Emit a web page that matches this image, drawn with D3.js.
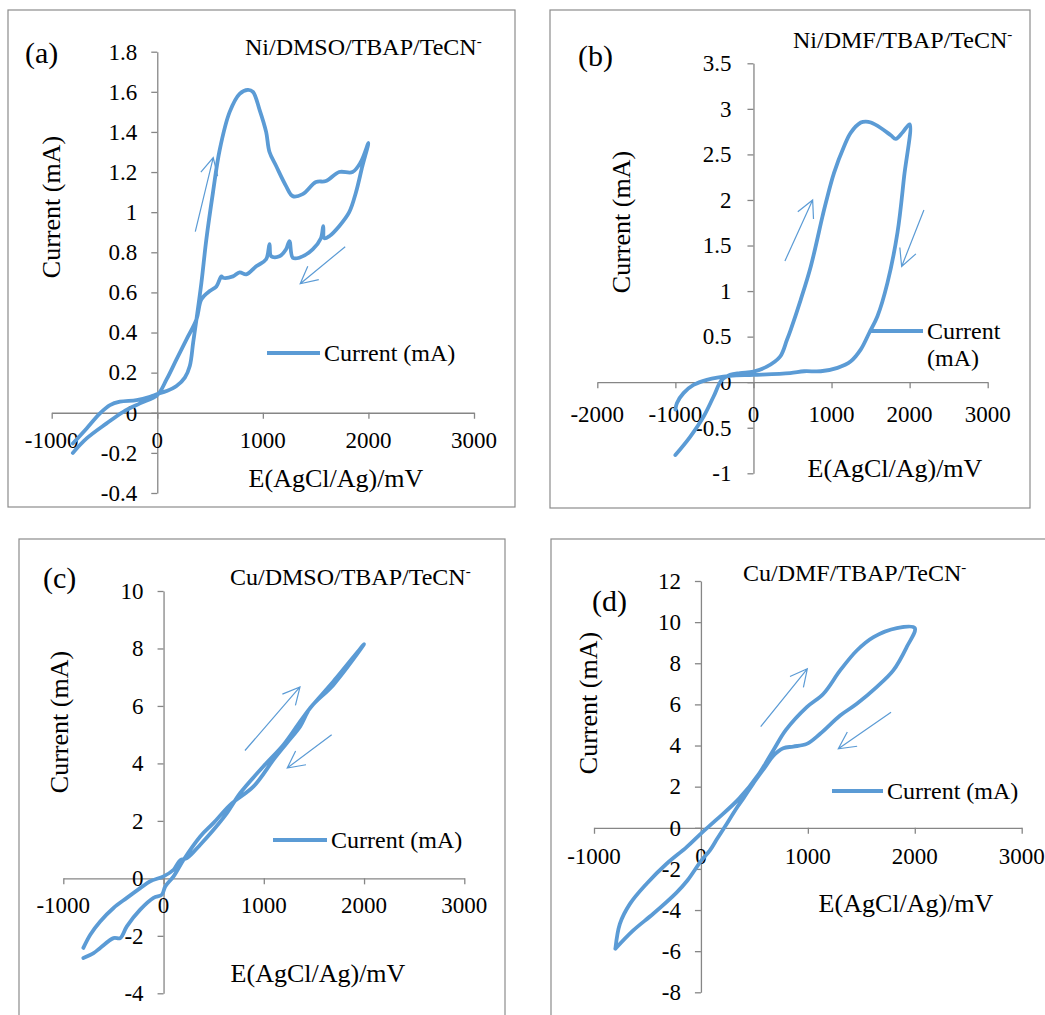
<!DOCTYPE html>
<html>
<head>
<meta charset="utf-8">
<title>Cyclic voltammograms</title>
<script src="https://d3js.org/d3.v7.min.js"></script>
<style>
  body { margin: 0; background: #fff; }
  svg text { font-family: "Liberation Serif", "Times New Roman", serif; fill: #000; }
  .axis path, .axis line { stroke: #868686; stroke-width: 1.3; }
</style>
</head>
<body>
<script>
// ---- data: potential (mV) / current (mA), forward then reverse sweep ----
const aE = [-800,-669,-543,-448,-354,-196,-69,0,88,182,261,308,340,371,418,465,528,591,686,780,858,906,969,1031,1063,1126,1220,1283,1377,1503,1597,1723,1849,1928,2000,
            1943,1881,1818,1723,1629,1582,1572,1550,1472,1346,1283,1252,1220,1157,1079,1063,1031,937,843,780,717,623,607,560,497,418,371,277,182,88,0,-164,-322,-480,-669,-800];
const aI = [-0.153,-0.078,-0.003,0.038,0.055,0.063,0.08,0.093,0.108,0.133,0.175,0.233,0.35,0.465,0.648,0.865,1.1,1.31,1.5,1.59,1.61,1.6,1.51,1.4,1.3,1.23,1.13,1.08,1.09,1.15,1.155,1.2,1.2,1.25,1.345,
            1.23,1.097,1.0,0.93,0.88,0.87,0.93,0.87,0.815,0.773,0.773,0.856,0.815,0.78,0.78,0.84,0.765,0.73,0.69,0.70,0.68,0.673,0.68,0.63,0.607,0.565,0.465,0.366,0.266,0.166,0.088,0.047,0.005,-0.053,-0.128,-0.2];

const bE = [-1000,-811,-640,-512,-405,-299,-171,0,171,341,427,478,606,734,884,927,1033,1161,1247,1375,1440,1503,1631,1759,1823,1909,2000,
            1930,1844,1716,1588,1482,1375,1247,1076,862,649,469,0,-299,-597,-768,-896,-981,-1000];
const bI = [-0.8,-0.6,-0.38,-0.16,0.026,0.08,0.1,0.117,0.17,0.28,0.46,0.578,0.907,1.27,1.82,1.97,2.3,2.59,2.74,2.85,2.86,2.85,2.79,2.71,2.67,2.74,2.83,
            2.26,1.64,1.09,0.724,0.54,0.36,0.23,0.157,0.12,0.12,0.1,0.08,0.07,0.026,-0.03,-0.12,-0.23,-0.3];

const cE = [-800,-731,-632,-499,-366,-233,-133,0,100,166,233,366,499,632,765,997,1197,1363,1463,1696,2000,
            1696,1463,1363,1230,1097,898,665,499,366,200,100,17,-17,-100,-233,-366,-432,-499,-632,-698,-800];
const cI = [-2.42,-1.96,-1.5,-1.03,-0.68,-0.34,-0.1,0.07,0.3,0.63,0.7,1.17,1.69,2.27,2.97,3.9,4.65,5.46,5.93,6.86,8.15,
            6.74,5.93,5.29,4.71,4.13,3.2,2.56,1.93,1.46,0.65,0.07,-0.28,-0.57,-0.68,-1.09,-1.67,-2.08,-2.08,-2.42,-2.6,-2.77];

const dE = [-800,-758,-664,-508,-321,-134,0,140,359,546,676,795,990,1146,1302,1458,1614,1832,2000,
            1924,1799,1643,1458,1302,1115,990,864,770,676,600,489,400,333,218,150,84,0,-125,-228,-446,-633,-800];
const dI = [-5.88,-4.67,-3.7,-2.72,-1.75,-0.94,-0.28,0.37,1.43,2.65,3.76,4.76,5.87,6.52,7.65,8.62,9.27,9.71,9.71,
            8.78,7.65,6.84,6.03,5.46,4.57,4.08,3.95,3.87,3.5,2.95,2.15,1.45,0.95,0,-0.55,-1.1,-1.62,-2.55,-3.15,-4.18,-4.99,-5.88];

// tick values
const xTicksA = [-1000,0,1000,2000,3000];
const yTicksA = [-0.4,-0.2,0,0.2,0.4,0.6,0.8,1,1.2,1.4,1.6,1.8];
const xTicksB = [-2000,-1000,0,1000,2000,3000];
const yTicksB = [-1,-0.5,0,0.5,1,1.5,2,2.5,3,3.5];
const xTicksC = [-1000,0,1000,2000,3000];
const yTicksC = [-4,-2,0,2,4,6,8,10];
const xTicksD = [-1000,0,1000,2000,3000];
const yTicksD = [-8,-6,-4,-2,0,2,4,6,8,10,12];

// sweep-direction arrows [E0, I0, E1, I1] (tail -> tip)
const arrowsA = [[360,0.903,530,1.272],[1780,0.828,1354,0.643]];
const arrowsB = [[403,1.33,758,2.0],[2183,1.89,1898,1.27]];
const arrowsC = [[812,4.45,1361,6.66],[1677,5.0,1234,3.84]];
const arrowsD = [[559,4.92,995,7.73],[1778,5.62,1285,3.84]];

const blue = '#5b9bd5';

const svg = d3.select('body').append('svg')
  .attr('width', 1045).attr('height', 1015);
svg.append('rect').attr('width', 1045).attr('height', 1015).attr('fill', '#fff');

const panels = [
  { E: aE, I: aI, xT: xTicksA, yT: yTicksA, arrows: arrowsA,
    xDom: [-1000,3000], xR: [51.7,474], yDom: [-0.4,1.8], yR: [493,51.7],
    frame: [8,10,515,507], xOff: 35, yOff: 20,
    letter: '(a)', letterPos: [25,63], title: 'Ni/DMSO/TBAP/TeCN', titlePos: [245,55],
    xTitle: [336,487], yTitle: [60,207], legend: [267,320,353], legendLines: ['Current (mA)'] },
  { E: bE, I: bI, xT: xTicksB, yT: yTicksB, arrows: arrowsB,
    xDom: [-2000,3000], xR: [597.3,987.7], yDom: [-1,3.5], yR: [473.3,63.3],
    frame: [550,10,1030,508], xOff: 40, yOff: 22,
    letter: '(b)', letterPos: [578,66], title: 'Ni/DMF/TBAP/TeCN', titlePos: [793,48],
    xTitle: [895,477], yTitle: [630,222], legend: [870,923,331], legendLines: ['Current', '(mA)'] },
  { E: cE, I: cI, xT: xTicksC, yT: yTicksC, arrows: arrowsC,
    xDom: [-1000,3000], xR: [63.3,464.3], yDom: [-4,10], yR: [993.3,591],
    frame: [19,539,505,1040], xOff: 34.3, yOff: 20,
    letter: '(c)', letterPos: [43,588], title: 'Cu/DMSO/TBAP/TeCN', titlePos: [230,585],
    xTitle: [318,982], yTitle: [68,722], legend: [273,327,840], legendLines: ['Current (mA)'] },
  { E: dE, I: dI, xT: xTicksD, yT: yTicksD, arrows: arrowsD,
    xDom: [-1000,3000], xR: [594,1021.7], yDom: [-8,12], yR: [992.3,581],
    frame: [551,539,1060,1040], xOff: 36, yOff: 20,
    letter: '(d)', letterPos: [592,611], title: 'Cu/DMF/TBAP/TeCN', titlePos: [743,581],
    xTitle: [906,912], yTitle: [597,703], legend: [832,883,791], legendLines: ['Current (mA)'] }
];

panels.forEach(p => {
  const g = svg.append('g');
  const x = d3.scaleLinear().domain(p.xDom).range(p.xR);
  const y = d3.scaleLinear().domain(p.yDom).range(p.yR);

  g.append('rect')
    .attr('x', p.frame[0]).attr('y', p.frame[1])
    .attr('width', p.frame[2] - p.frame[0]).attr('height', p.frame[3] - p.frame[1])
    .attr('fill', 'none').attr('stroke', '#8c8c8c').attr('stroke-width', 1.2);

  // axes cross at zero; labels drawn separately in serif
  g.append('g').attr('class', 'axis')
    .attr('transform', `translate(0,${y(0)})`)
    .call(d3.axisBottom(x).tickValues(p.xT).tickSize(6).tickSizeOuter(0).tickFormat(''));

  g.append('g').attr('class', 'axis')
    .attr('transform', `translate(${x(0)},0)`)
    .call(d3.axisLeft(y).tickValues(p.yT).tickSize(6).tickSizeOuter(0).tickFormat(''));

  g.append('g').selectAll('text')
    .data(p.xT).join('text')
    .attr('x', d => x(d)).attr('y', y(0) + p.xOff)
    .attr('text-anchor', 'middle').attr('font-size', 23)
    .text(d => String(d));

  g.append('g').selectAll('text')
    .data(p.yT).join('text')
    .attr('x', x(0) - p.yOff).attr('y', d => y(d)).attr('dy', '0.34em')
    .attr('text-anchor', 'end').attr('font-size', 23)
    .text(d => String(d));

  // curve
  const pts = p.E.map((e, i) => [e, p.I[i]]);
  g.append('path')
    .datum(pts)
    .attr('fill', 'none')
    .attr('stroke', blue)
    .attr('stroke-width', 3.8)
    .attr('stroke-linejoin', 'round')
    .attr('stroke-linecap', 'round')
    .attr('d', d3.line().x(d => x(d[0])).y(d => y(d[1])).curve(d3.curveCatmullRom.alpha(0.5)));

  // arrows
  p.arrows.forEach(a => {
    const x0 = x(a[0]), y0 = y(a[1]), x1 = x(a[2]), y1 = y(a[3]);
    const ang = Math.atan2(y0 - y1, x0 - x1);
    const L = 19, h = 27 * Math.PI / 180;
    const path = `M${x0},${y0}L${x1},${y1}` +
      `M${x1 + L * Math.cos(ang - h)},${y1 + L * Math.sin(ang - h)}L${x1},${y1}` +
      `L${x1 + L * Math.cos(ang + h)},${y1 + L * Math.sin(ang + h)}`;
    g.append('path').attr('d', path).attr('fill', 'none')
      .attr('stroke', blue).attr('stroke-width', 1.2);
  });

  // labels
  g.append('text').attr('x', p.letterPos[0]).attr('y', p.letterPos[1])
    .attr('font-size', 30).text(p.letter);

  const t = g.append('text').attr('x', p.titlePos[0]).attr('y', p.titlePos[1])
    .attr('font-size', 24).text(p.title);
  t.append('tspan').attr('dy', -9).attr('font-size', 15).text('-');

  g.append('text').attr('x', p.xTitle[0]).attr('y', p.xTitle[1])
    .attr('text-anchor', 'middle').attr('font-size', 26).text('E(AgCl/Ag)/mV');

  g.append('text')
    .attr('transform', `translate(${p.yTitle[0]},${p.yTitle[1]}) rotate(-90)`)
    .attr('text-anchor', 'middle').attr('font-size', 26).text('Current (mA)');

  // legend
  g.append('line')
    .attr('x1', p.legend[0]).attr('x2', p.legend[1])
    .attr('y1', p.legend[2]).attr('y2', p.legend[2])
    .attr('stroke', blue).attr('stroke-width', 3.8);
  const lt = g.append('text').attr('x', p.legend[1] + 4).attr('y', p.legend[2] + 8)
    .attr('font-size', 24);
  p.legendLines.forEach((s, i) => {
    lt.append('tspan').attr('x', p.legend[1] + 4).attr('dy', i === 0 ? 0 : 27).text(s);
  });
});
</script>
</body>
</html>
